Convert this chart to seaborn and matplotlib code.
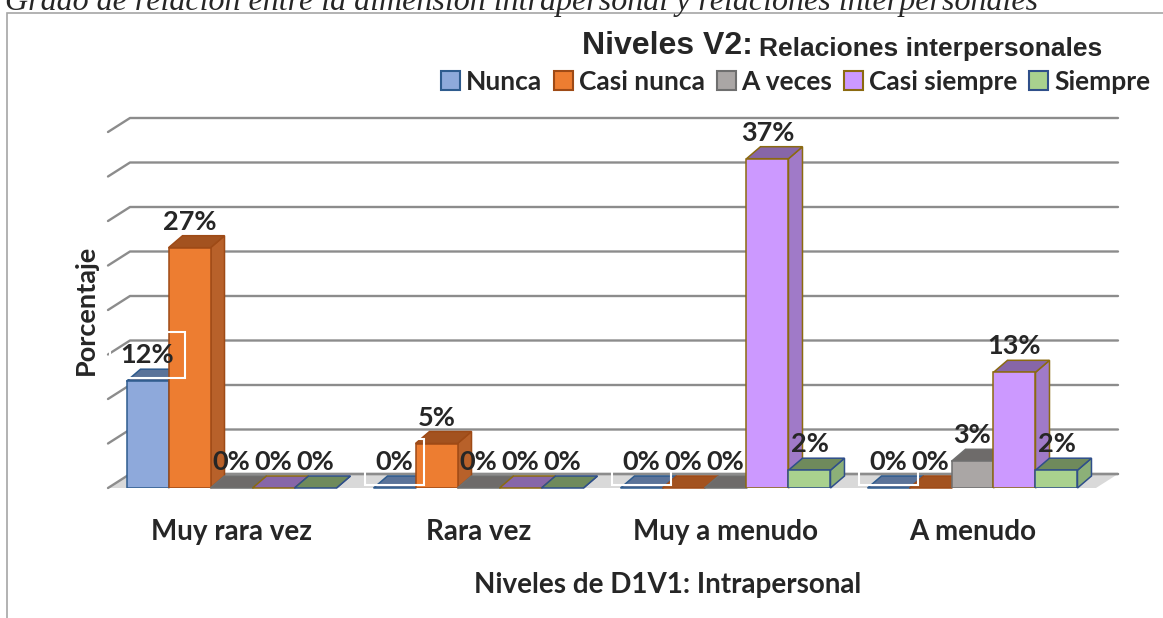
import numpy as np
import pandas as pd
import matplotlib
matplotlib.use("Agg")
import matplotlib.pyplot as plt
import matplotlib.transforms as mtransforms
from matplotlib.patches import Polygon, Patch, Rectangle
from matplotlib.lines import Line2D
import seaborn as sns

# ------------------------------------------------------
# Data
# ------------------------------------------------------
categorias = ["Muy rara vez", "Rara vez", "Muy a menudo", "A menudo"]
niveles_v2 = ["Nunca", "Casi nunca", "A veces", "Casi siempre", "Siempre"]
nunca = [12, 0, 0, 0]
casi_nunca = [27, 5, 0, 0]
a_veces = [0, 0, 0, 3]
casi_siempre = [0, 0, 37, 13]
siempre = [0, 0, 2, 2]

# face, edge, top, side colours per series
caras = ["#8EA9DB", "#ED7D31", "#AAA6A5", "#CC99FF", "#A9D18E"]
bordes = ["#2E5B8E", "#9E4A16", "#6F6F6F", "#8B6A10", "#2F4F8A"]
tapas = ["#5B7399", "#A3521F", "#6E6B6A", "#8766A8", "#6F8A5C"]
lados = ["#6D88B8", "#B8612A", "#8A8685", "#A07AC8", "#8CB078"]

TITLE = "Grado de relación entre la dimensión intrapersonal y relaciones interpersonales"

# depth offsets in pixels (x right, y up)
BAR_DX, BAR_DY = 14, 12
WALL_DX, WALL_DY = 22, 14

sns.set_style("white")
plt.rcParams["font.family"] = ["Lato", "DejaVu Sans"]

df = pd.DataFrame({
    "d1": categorias * 5,
    "v2": np.repeat(niveles_v2, len(categorias)),
    "pct": nunca + casi_nunca + a_veces + casi_siempre + siempre,
})

W, H = 1163, 618
fig = plt.figure(figsize=(W / 100, H / 100), dpi=100)
ax = fig.add_axes([108 / W, (H - 488) / H, (1096 - 108) / W, 356 / H])

sns.barplot(data=df, x="d1", y="pct", hue="v2", order=categorias,
            hue_order=niveles_v2, palette=caras, saturation=1, width=0.85,
            legend=False, ax=ax)

ax.set_xlim(-0.5, 3.5)
ax.set_ylim(0, 40)
ax.set_yticks([])
sns.despine(ax=ax, left=True, bottom=True)
ax.set_xticks(range(len(categorias)))
ax.set_xticklabels(categorias, fontsize=20, fontweight="bold")
ax.tick_params(axis="x", length=0, pad=22)
ax.set_xlabel("Niveles de D1V1: Intrapersonal", fontsize=20, fontweight="bold")
ax.xaxis.set_label_coords((668 - 108) / 988, -84 / 356)
ax.set_ylabel("Porcentaje", fontsize=19.5, fontweight="bold", labelpad=7)

ident = mtransforms.IdentityTransform()
to_px = ax.transData.transform

# back wall gridlines + floor
for v in range(0, 45, 5):
    (fx, fy), (rx, ry) = to_px([(-0.5, v), (3.5, v)])
    line = Line2D([fx, fx + WALL_DX, rx + WALL_DX], [fy, fy + WALL_DY, ry + WALL_DY],
                  color="#8C8C8C", lw=1.7, transform=ident, zorder=1)
    line.set_clip_on(False)
    ax.add_line(line)
(fx, fy), (rx, ry) = to_px([(-0.5, 0), (3.5, 0)])
suelo = Polygon([(fx, fy), (rx, ry), (rx + WALL_DX, ry + WALL_DY), (fx + WALL_DX, fy + WALL_DY)],
                closed=True, facecolor="#D9D9D9", edgecolor="none",
                transform=ident, zorder=0.5, clip_on=False)
ax.add_patch(suelo)
line = Line2D([fx + WALL_DX, rx + WALL_DX], [fy + WALL_DY, ry + WALL_DY],
              color="#8C8C8C", lw=1.7, transform=ident, zorder=0.6)
line.set_clip_on(False)
ax.add_line(line)

# 3D bars built from the seaborn rectangles
barras = []
for i, cont in enumerate(ax.containers):
    for rect in cont:
        barras.append((rect.get_x(), i, rect))
barras.sort(key=lambda b: b[0])

for k, (_, i, rect) in enumerate(barras):
    x0, w, h = rect.get_x(), rect.get_width(), rect.get_height()
    (xl, yb), (xr, yt) = to_px([(x0, 0), (x0 + w, h)])
    z = 2 + k * 0.01
    lado = Polygon([(xr, yb), (xr, yt), (xr + BAR_DX, yt + BAR_DY), (xr + BAR_DX, yb + BAR_DY)],
                   closed=True, facecolor=lados[i], edgecolor=bordes[i], lw=1.1,
                   transform=ident, zorder=z, clip_on=False)
    tapa = Polygon([(xl, yt), (xr, yt), (xr + BAR_DX, yt + BAR_DY), (xl + BAR_DX, yt + BAR_DY)],
                   closed=True, facecolor=tapas[i], edgecolor=bordes[i], lw=1.1,
                   transform=ident, zorder=z + 0.001, clip_on=False)
    ax.add_patch(lado)
    ax.add_patch(tapa)
    rect.set_facecolor(caras[i])
    rect.set_edgecolor(bordes[i])
    rect.set_linewidth(1.1)
    rect.set_zorder(z + 0.002)
    rect.set_visible(h > 0)

    caja = None
    if i == 0:
        caja = dict(boxstyle="square,pad=0.4", facecolor="none",
                    edgecolor="white", lw=1.5)
    ax.annotate(f"{h:.0f}%", xy=(x0 + w / 2, h), xytext=(0, 14),
                textcoords="offset pixels", ha="center", va="bottom",
                fontsize=19.5, fontweight="bold", zorder=10, bbox=caja,
                annotation_clip=False)

# legend
handles = [Patch(facecolor=caras[i], edgecolor=bordes[i], linewidth=1.5)
           for i in range(len(niveles_v2))]
fig.legend(handles, niveles_v2, loc="center",
           bbox_to_anchor=((439 + 1152) / 2 / W, 1 - 82 / H), ncol=5,
           frameon=False, handlelength=0.72, handleheight=0.72,
           handletextpad=0.22, columnspacing=0.45,
           prop={"weight": "bold", "size": 19})

# title in two sizes
t1 = fig.text(582 / W, 1 - 61 / H, "Niveles V2:", fontsize=23,
              fontweight="bold", family=["Liberation Sans", "DejaVu Sans"],
              va="bottom", ha="left")
ax.annotate("Relaciones interpersonales", xy=(1, 0), xycoords=t1,
            xytext=(6, 0), textcoords="offset pixels", fontsize=19,
            fontweight="bold", family=["Liberation Sans", "DejaVu Sans"],
            va="bottom", ha="left", annotation_clip=False)

# chart border and the clipped caption above it
fig.patches.append(Rectangle((7 / W, -0.1), 1.2, (H - 13) / H + 0.1,
                             transform=fig.transFigure, facecolor="none",
                             edgecolor="#A6A6A6", lw=1.2))
fig.text(5 / W, 1 - 10 / H, TITLE, fontsize=23, style="italic",
         family=["Liberation Serif", "DejaVu Serif"], va="baseline")

fig.savefig("out.png", dpi=100)
plt.close(fig)
